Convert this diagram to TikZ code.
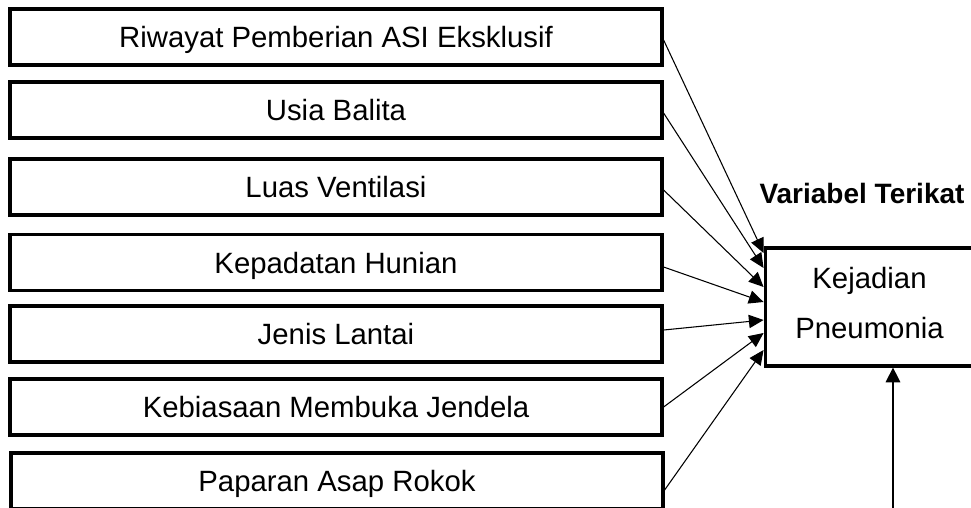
\documentclass[tikz,border=0pt]{standalone}
\usepackage{fontspec}
\setmainfont{Liberation Sans}
\usetikzlibrary{arrows.meta,calc}
\begin{document}
\begin{tikzpicture}[x=0.75pt,y=-0.75pt,
  varbox/.style={draw,line width=2.4pt,minimum width=489pt,minimum height=42pt,inner sep=0pt,fill=white,text height=15.8pt,text depth=0pt,font=\fontsize{22}{26}\selectfont},
  tbox/.style={draw,line width=2.4pt,minimum width=158pt,minimum height=88.5pt,inner sep=0pt},
  ttext/.style={align=center,inner sep=0pt,font=\fontsize{22}{37.5}\selectfont},
  arr/.style={line width=0.8pt,-{Triangle[length=11pt,width=10pt]}},
  varr/.style={line width=0.8pt,-{Triangle[length=11pt,width=11pt]}}]
\useasboundingbox (0,0) rectangle (971,507);
\node[varbox] (b1) at (336,37) {Riwayat Pemberian ASI Eksklusif};
\node[varbox] (b2) at (336,110) {Usia Balita};
\node[varbox] (b3) at (336,187) {Luas Ventilasi};
\node[varbox] (b4) at (336,262.5) {Kepadatan Hunian};
\node[varbox] (b5) at (336,334) {Jenis Lantai};
\node[varbox] (b6) at (336,407) {Kebiasaan Membuka Jendela};
\node[varbox] (b7) at (337,481) {Paparan Asap Rokok};
\node[tbox] (t) at (870.5,307) {};
\node[ttext] (tt) at ($(t)+(-1,-4)$) {Kejadian\\Pneumonia};
\node[font=\bfseries\fontsize{21}{25}\selectfont] (lbl) at (862,193) {Variabel Terikat};
\draw[arr] ($(b1.east)+(0,3)$) -- ($(t.west)+(0,-54)$);
\draw[arr] ($(b2.east)+(0,3)$) -- ($(t.west)+(0,-39)$);
\draw[arr] ($(b3.east)+(0,3)$) -- ($(t.west)+(0,-20)$);
\draw[arr] ($(b4.east)+(0,4.5)$) -- ($(t.west)+(0,-5)$);
\draw[arr] ($(b5.east)+(0,-4)$) -- ($(t.west)+(0,13)$);
\draw[arr] (b6.east) -- ($(t.west)+(0,26)$);
\draw[arr] ($(b7.east)+(0,9)$) -- ($(t.west)+(0,43)$);
\coordinate (v) at (893,512);
\draw[varr] (v) -- (v |- t.south);
\end{tikzpicture}
\end{document}
